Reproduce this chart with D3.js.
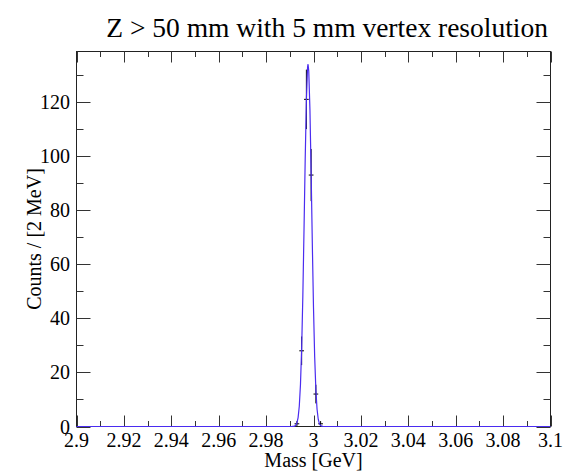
<!DOCTYPE html>
<html><head><meta charset="utf-8">
<script src="https://cdn.jsdelivr.net/npm/d3@7"></script>
<style>body{margin:0;background:#fff}svg{display:block}</style>
</head><body>
<script>
// ---- data ----
const title = "Z > 50 mm with 5 mm vertex resolution";
const xLabel = "Mass [GeV]";
const yLabel = "Counts / [2 MeV]";
const xTicks = [2.9, 2.92, 2.94, 2.96, 2.98, 3.0, 3.02, 3.04, 3.06, 3.08, 3.1];
const xTickLabels = ["2.9","2.92","2.94","2.96","2.98","3","3.02","3.04","3.06","3.08","3.1"];
const yTicks = [0, 20, 40, 60, 80, 100, 120];
// data bins (2 MeV), centers and counts
const binCenters = [2.993, 2.995, 2.997, 2.999, 3.001, 3.003];
const binCounts  = [1, 28, 121, 93, 12, 1];
const binWidth = 0.002;
// fitted curve
const fitMass = [2.9, 2.990, 2.9905, 2.991, 2.9915, 2.992, 2.9925, 2.993, 2.9935, 2.994, 2.9945, 2.995, 2.9955, 2.996, 2.9965, 2.997, 2.9975, 2.9977, 2.998, 2.9985, 2.999, 2.9995, 3.000, 3.0005, 3.001, 3.0015, 3.002, 3.0025, 3.003, 3.0035, 3.004, 3.0045, 3.1];
const fitVals = [0, 0, 0, 0.01, 0.04, 0.14, 0.45, 1.3, 3.3, 7.5, 15.5, 28.8, 48.3, 72.9, 98.9, 120.8, 132.9, 134, 131.5, 117.1, 93.9, 67.7, 43.9, 25.7, 13.5, 6.4, 2.7, 1.0, 0.36, 0.11, 0.03, 0, 0];

const W = 572, H = 472;
const x0 = 76.5, x1 = 550.5, y0 = 426.5, y1 = 51.5;
const svg = d3.select("body").append("svg").attr("width", W).attr("height", H);
const font = "'Liberation Serif', 'Times New Roman', serif";

const x = d3.scaleLinear().domain([2.9, 3.1]).range([x0, x1]);
const y = d3.scaleLinear().domain([0, 138.7]).range([y0, y1]);

// frame
svg.append("rect").attr("x", x0).attr("y", y1).attr("width", x1 - x0).attr("height", y0 - y1)
  .attr("fill", "none").attr("stroke", "#222").attr("stroke-width", 1);

// ticks
const xMinor = d3.range(0, 21).map(i => 2.9 + i * 0.01);
const g = svg.append("g").attr("stroke", "#333").attr("stroke-width", 1);
xMinor.forEach((v, i) => {
  const len = (i % 2 === 0) ? 11 : 5.5;
  const px = Math.round(x(v)) + 0.5;
  g.append("line").attr("x1", px).attr("x2", px).attr("y1", y0).attr("y2", y0 - len);
  g.append("line").attr("x1", px).attr("x2", px).attr("y1", y1).attr("y2", y1 + len);
});
const yMinor = d3.range(0, 14).map(i => i * 10);
yMinor.forEach((v, i) => {
  const len = (i % 2 === 0) ? 14 : 7;
  const py = Math.round(y(v)) + 0.5;
  g.append("line").attr("x1", x0).attr("x2", x0 + len).attr("y1", py).attr("y2", py);
  g.append("line").attr("x1", x1).attr("x2", x1 - len).attr("y1", py).attr("y2", py);
});

// tick labels
svg.append("g").selectAll("text").data(xTicks).join("text")
  .attr("x", d => x(d)).attr("y", 447).attr("text-anchor", "middle")
  .attr("font-family", font).attr("font-size", 20).attr("fill", "#000")
  .text((d, i) => xTickLabels[i]);
svg.append("g").selectAll("text").data(yTicks).join("text")
  .attr("x", 70).attr("y", d => y(d) + 7).attr("text-anchor", "end")
  .attr("font-family", font).attr("font-size", 20).attr("fill", "#000")
  .text(d => d);

// axis titles
svg.append("text").attr("x", (x0 + x1) / 2).attr("y", 467).attr("text-anchor", "middle")
  .attr("font-family", font).attr("font-size", 20).text(xLabel);
svg.append("text").attr("transform", `translate(41,${(y0 + y1) / 2}) rotate(-90)`)
  .attr("text-anchor", "middle").attr("font-family", font).attr("font-size", 20).text(yLabel);

// title
svg.append("text").attr("x", 548).attr("y", 37).attr("text-anchor", "end")
  .attr("font-family", font).attr("font-size", 27.5).text(title);

// data points with error bars
const dg = svg.append("g").attr("stroke", "#000").attr("stroke-width", 1);
binCenters.forEach((c, i) => {
  const n = binCounts[i], e = Math.sqrt(n);
  dg.append("line").attr("x1", x(c)).attr("x2", x(c)).attr("y1", y(n - e)).attr("y2", y(n + e));
  dg.append("line").attr("x1", x(c - binWidth / 2)).attr("x2", x(c + binWidth / 2)).attr("y1", y(n)).attr("y2", y(n));
});

// fit curve
const line = d3.line().x(d => x(d[0])).y(d => y(d[1]));
svg.append("path").datum(fitMass.map((m, i) => [m, fitVals[i]]))
  .attr("d", line).attr("fill", "none").attr("stroke", "#4a2cf0").attr("stroke-width", 1.2);
</script>
</body></html>
